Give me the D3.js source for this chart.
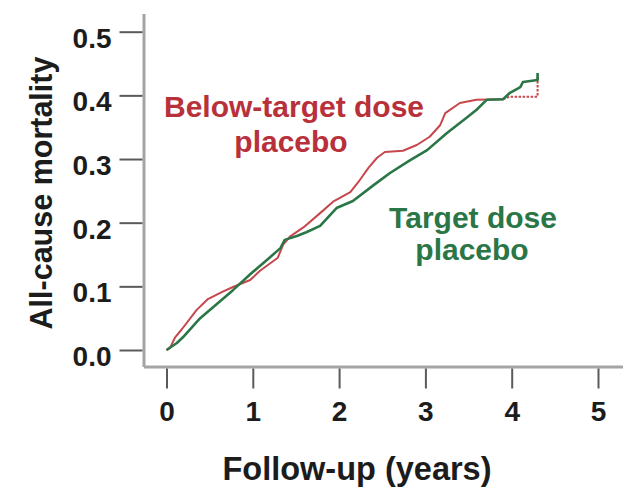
<!DOCTYPE html>
<html>
<head>
<meta charset="utf-8">
<script src="https://cdn.jsdelivr.net/npm/d3@7/dist/d3.min.js"></script>
<style>
  html, body { margin: 0; padding: 0; background: #fff; }
  svg { display: block; }
  text { font-family: "Liberation Sans", Arial, Helvetica, sans-serif; font-weight: bold; }
</style>
</head>
<body>
<svg id="chart" width="635" height="493"></svg>
<script>
// Cumulative all-cause mortality by follow-up time (years)
const belowTargetTime = [0.00, 0.04, 0.10, 0.18, 0.35, 0.48, 0.64, 0.77, 0.97, 1.08, 1.29, 1.35, 1.43, 1.59, 1.78, 1.93, 2.13, 2.24, 2.34, 2.44, 2.53, 2.74, 2.90, 3.05, 3.17, 3.23, 3.40, 3.59, 3.90];
const belowTargetRisk = [0.000, 0.003, 0.020, 0.033, 0.063, 0.080, 0.091, 0.099, 0.110, 0.124, 0.145, 0.165, 0.178, 0.193, 0.215, 0.233, 0.248, 0.267, 0.286, 0.302, 0.311, 0.313, 0.322, 0.335, 0.353, 0.372, 0.388, 0.393, 0.394];
// sparse tail of the below-target curve (few patients at risk)
const belowTargetTailTime = [3.90, 3.98, 4.30, 4.30];
const belowTargetTailRisk = [0.394, 0.398, 0.398, 0.432];

const targetTime = [0.00, 0.12, 0.19, 0.39, 0.58, 0.77, 0.97, 1.16, 1.32, 1.37, 1.51, 1.62, 1.78, 1.97, 2.16, 2.40, 2.59, 2.82, 3.02, 3.25, 3.44, 3.59, 3.71, 3.90, 3.98, 4.10, 4.13, 4.30, 4.30];
const targetRisk = [0.000, 0.011, 0.020, 0.050, 0.072, 0.094, 0.119, 0.141, 0.160, 0.173, 0.179, 0.185, 0.195, 0.223, 0.234, 0.259, 0.278, 0.298, 0.314, 0.341, 0.361, 0.377, 0.393, 0.394, 0.404, 0.413, 0.421, 0.424, 0.435];

const xTicks = [0, 1, 2, 3, 4, 5];
const yTicks = [0.0, 0.1, 0.2, 0.3, 0.4, 0.5];

const redColor = "#b8303a";
const redLine = "#c6474d";
const greenColor = "#2a7646";

const svg = d3.select("#chart");

const x = d3.scaleLinear().domain([0, 5]).range([166.5, 598]);
const y = d3.scaleLinear().domain([0, 0.5]).range([350, 31.7]);

const axisX = 144;   // position of the vertical axis line
const axisY = 367;   // position of the horizontal axis line

// axis lines
svg.append("line")
  .attr("x1", axisX).attr("x2", axisX).attr("y1", 14).attr("y2", axisY)
  .attr("stroke", "#a4a4a4").attr("stroke-width", 3);
svg.append("line")
  .attr("x1", axisX).attr("x2", 623).attr("y1", axisY).attr("y2", axisY)
  .attr("stroke", "#a4a4a4").attr("stroke-width", 3);

// y axis ticks and labels
const gy = svg.append("g")
  .attr("transform", `translate(${axisX - 1.5},0)`)
  .call(d3.axisLeft(y).tickValues(yTicks).tickFormat(d3.format(".1f")).tickSize(23).tickPadding(8));
gy.select(".domain").remove();
gy.selectAll(".tick line").attr("stroke", "#5a5a5a").attr("stroke-width", 2);
gy.selectAll(".tick text")
  .attr("fill", "#1c1c1c").attr("font-size", 28).attr("dy", 15.5);

// x axis ticks and labels
const gx = svg.append("g")
  .attr("transform", `translate(0,${axisY + 1.5})`)
  .call(d3.axisBottom(x).tickValues(xTicks).tickFormat(d3.format("d")).tickSize(20));
gx.select(".domain").remove();
gx.selectAll(".tick line").attr("stroke", "#5a5a5a").attr("stroke-width", 2);
gx.selectAll(".tick text")
  .attr("fill", "#1c1c1c").attr("font-size", 28).attr("y", 52).attr("dy", 0);

// axis titles
svg.append("text")
  .attr("x", 357).attr("y", 480)
  .attr("text-anchor", "middle").attr("font-size", 32.5).attr("fill", "#1c1c1c")
  .text("Follow-up (years)");
svg.append("text")
  .attr("transform", "translate(52,193) rotate(-90)")
  .attr("text-anchor", "middle").attr("font-size", 30.5).attr("fill", "#1c1c1c")
  .text("All-cause mortality");

// curves
const line = d3.line().x(d => x(d[0])).y(d => y(d[1])).curve(d3.curveLinear);
const zip = (a, b) => a.map((t, i) => [t, b[i]]);

svg.append("path")
  .datum(zip(belowTargetTime, belowTargetRisk))
  .attr("d", line)
  .attr("fill", "none").attr("stroke", redLine).attr("stroke-width", 2)
  .attr("stroke-linejoin", "round");
svg.append("path")
  .datum(zip(belowTargetTailTime, belowTargetTailRisk))
  .attr("d", line)
  .attr("fill", "none").attr("stroke", redLine).attr("stroke-width", 2)
  .attr("stroke-dasharray", "2.5,1.5");

svg.append("path")
  .datum(zip(targetTime, targetRisk))
  .attr("d", line)
  .attr("fill", "none").attr("stroke", greenColor).attr("stroke-width", 2.6)
  .attr("stroke-linejoin", "round");

// series labels
const redLabel = svg.append("text")
  .attr("text-anchor", "middle").attr("font-size", 30).attr("fill", redColor);
redLabel.append("tspan").attr("x", 294).attr("y", 117).text("Below-target dose");
redLabel.append("tspan").attr("x", 291).attr("y", 152).text("placebo");

const greenLabel = svg.append("text")
  .attr("text-anchor", "middle").attr("font-size", 30).attr("fill", greenColor);
greenLabel.append("tspan").attr("x", 473).attr("y", 228).text("Target dose");
greenLabel.append("tspan").attr("x", 472).attr("y", 260).text("placebo");
</script>
</body>
</html>
